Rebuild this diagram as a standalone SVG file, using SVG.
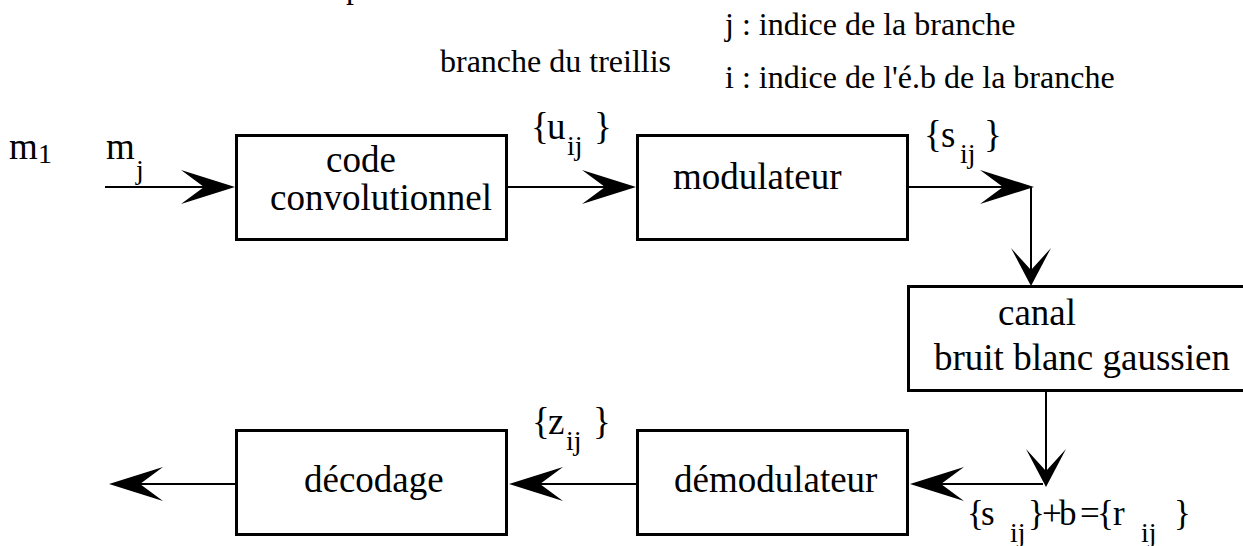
<svg xmlns="http://www.w3.org/2000/svg" width="1243" height="546" viewBox="0 0 1243 546">
  <style>
    text { font-family: "Liberation Serif", "Times New Roman", serif; fill: #000; }
    .lbl { font-size: 37px; }
    .note { font-size: 32px; }
    .sub { font-size: 28px; }
    .eq { font-size: 35px; }
    .box { fill: #fff; stroke: #000; stroke-width: 3; }
    .wire { fill: none; stroke: #000; stroke-width: 2; }
    .head { fill: #000; stroke: none; }
  </style>
  <defs>
    <!-- swallow-tail heads, tip at the origin -->
    <path id="hR" class="head" d="M0,0 L-54,-17 L-31,0 L-54,17 Z"/>
    <path id="hL" class="head" d="M0,0 L54,-17 L31,0 L54,17 Z"/>
    <path id="hD" class="head" d="M0,0 L-20,-38 L0,-16 L20,-38 Z"/>
  </defs>
  <rect width="1243" height="546" fill="#fff"/>

  <!-- legends -->
  <text class="note" x="346" y="-2">p</text>
  <text class="note" x="440" y="72">branche du treillis</text>
  <text class="note" x="725" y="35">j : indice de la branche</text>
  <text class="note" x="725" y="88">i : indice de l'é.b de la branche</text>

  <!-- message symbols -->
  <g id="msg">
    <text class="lbl" x="9" y="159">m</text><text class="sub" x="38" y="163">1</text>
    <text class="lbl" x="106" y="159">m</text><text class="sub" x="136" y="179">j</text>
  </g>

  <g id="codeur">
    <rect class="box" x="236.5" y="135.5" width="270" height="104"/>
    <text class="lbl" x="326" y="172">code</text>
    <text class="lbl" x="270" y="210">convolutionnel</text>
  </g>

  <g id="modulateur">
    <rect class="box" x="637.5" y="135.5" width="270" height="104"/>
    <text class="lbl" x="673" y="189">modulateur</text>
  </g>

  <g id="canal">
    <rect class="box" x="908.5" y="286.5" width="340" height="104"/>
    <text class="lbl" x="998" y="325">canal</text>
    <text class="lbl" x="934" y="370">bruit blanc gaussien</text>
  </g>

  <g id="demodulateur">
    <rect class="box" x="637.5" y="430.5" width="270" height="104"/>
    <text class="lbl" x="674" y="492">démodulateur</text>
  </g>

  <g id="decodage">
    <rect class="box" x="236.5" y="430.5" width="270" height="104"/>
    <text class="lbl" x="304" y="492">décodage</text>
  </g>

  <!-- sequence labels -->
  <g id="labels">
    <text class="lbl" x="531 547" y="139">{u</text><text class="sub" x="567" y="155">ij</text><text class="lbl" x="594" y="139">}</text>
    <text class="lbl" x="924 941" y="147">{s</text><text class="sub" x="960" y="163">ij</text><text class="lbl" x="984" y="147">}</text>
    <text class="lbl" x="532 548" y="434">{z</text><text class="sub" x="566" y="450">ij</text><text class="lbl" x="593" y="434">}</text>
    <text class="eq" x="967 981" y="525">{s</text><text class="sub" x="1010" y="542">ij</text>
    <text class="eq" x="1028 1042 1059 1080 1097 1113" y="525">}+b={r</text>
    <text class="sub" x="1141" y="542">ij</text><text class="eq" x="1174" y="525">}</text>
  </g>

  <!-- connectors -->
  <g id="connectors">
    <line class="wire" x1="105" y1="187" x2="215" y2="187"/>
    <use href="#hR" x="235" y="187"/>
    <line class="wire" x1="508" y1="187" x2="615" y2="187"/>
    <use href="#hR" x="636" y="187"/>
    <line class="wire" x1="908" y1="187" x2="1031" y2="187"/>
    <use href="#hR" x="1034" y="187"/>
    <line class="wire" x1="1031" y1="187" x2="1031" y2="272"/>
    <use href="#hD" x="1031" y="286"/>
    <line class="wire" x1="1046" y1="391" x2="1046" y2="473"/>
    <use href="#hD" x="1046" y="487"/>
    <line class="wire" x1="1043" y1="484" x2="930" y2="484"/>
    <use href="#hL" x="910" y="484"/>
    <line class="wire" x1="636" y1="484" x2="530" y2="484"/>
    <use href="#hL" x="509" y="484"/>
    <line class="wire" x1="235" y1="484" x2="130" y2="484"/>
    <use href="#hL" x="109" y="484"/>
  </g>
</svg>
